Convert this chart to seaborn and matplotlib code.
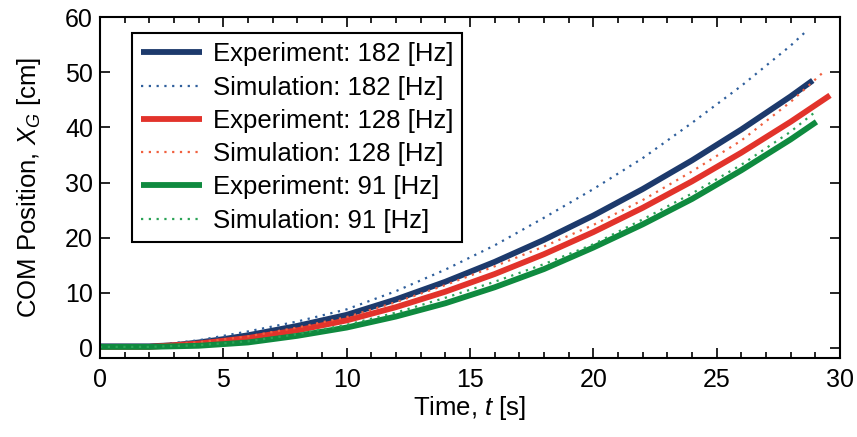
import numpy as np
import pandas as pd
import matplotlib
matplotlib.use("Agg")
import matplotlib.pyplot as plt
from matplotlib.ticker import MultipleLocator
import seaborn as sns

# values (time in s, COM position in cm)
t_exp_182 = [0, 2, 3, 4, 5, 6, 8, 10, 12, 14, 16, 18, 20, 22, 24, 26, 28, 28.9]
x_exp_182 = [0.3, 0.3, 0.5, 1.0, 1.6, 2.3, 4.0, 6.0, 8.8, 12.0, 15.6, 19.6, 24.0, 28.8, 34.0, 39.6, 45.6, 48.5]

t_sim_182 = [0, 2, 4, 6, 8, 10, 12, 14, 16, 18, 20, 22, 24, 26, 28, 28.7]
x_sim_182 = [0.3, 0.4, 1.4, 3.0, 4.8, 7.0, 10.3, 14.2, 18.6, 23.6, 28.8, 34.4, 40.8, 47.5, 54.8, 57.7]

t_exp_128 = [0, 2, 4, 6, 8, 10, 12, 14, 16, 18, 20, 22, 24, 26, 28, 29.6]
x_exp_128 = [0.2, 0.2, 0.8, 1.8, 3.2, 5.0, 7.4, 10.2, 13.4, 17.0, 21.0, 25.4, 30.2, 35.4, 41.0, 45.8]

t_sim_128 = [0, 2, 4, 6, 8, 10, 12, 14, 16, 18, 20, 22, 24, 26, 28, 29.4]
x_sim_128 = [0.2, 0.3, 1.0, 2.1, 3.7, 5.6, 8.3, 11.4, 14.8, 18.4, 22.3, 26.8, 32.0, 37.6, 44.6, 50.3]

t_exp_91 = [0, 2, 4, 6, 8, 10, 12, 14, 16, 18, 20, 22, 24, 26, 28, 29.05]
x_exp_91 = [0.2, 0.2, 0.4, 1.0, 2.2, 3.7, 5.7, 8.1, 11.0, 14.3, 18.2, 22.4, 27.0, 32.2, 37.8, 41.0]

t_sim_91 = [0, 2, 4, 6, 8, 10, 12, 14, 16, 18, 20, 22, 24, 26, 28, 29.0]
x_sim_91 = [0.2, 0.2, 0.5, 1.2, 2.5, 4.2, 6.4, 9.1, 12.0, 15.2, 18.8, 23.3, 28.0, 33.2, 39.2, 42.8]

dots = (0, (1, 2.5))
series = [
    ("Experiment: 182 [Hz]", t_exp_182, x_exp_182, "#1d3a6c", "-", 4.2),
    ("Simulation: 182 [Hz]", t_sim_182, x_sim_182, "#2f5f9c", dots, 1.6),
    ("Experiment: 128 [Hz]", t_exp_128, x_exp_128, "#e2332b", "-", 4.2),
    ("Simulation: 128 [Hz]", t_sim_128, x_sim_128, "#f0603f", dots, 1.6),
    ("Experiment: 91 [Hz]", t_exp_91, x_exp_91, "#0f8a3f", "-", 4.2),
    ("Simulation: 91 [Hz]", t_sim_91, x_sim_91, "#2aa356", dots, 1.6),
]

sns.set_style("ticks")
plt.rcParams["font.family"] = ["Liberation Sans", "DejaVu Sans"]
plt.rcParams["mathtext.fontset"] = "custom"
plt.rcParams["mathtext.it"] = "Liberation Sans:italic"
plt.rcParams["mathtext.rm"] = "Liberation Sans"
plt.rcParams["text.color"] = "black"
plt.rcParams["axes.labelcolor"] = "black"
plt.rcParams["xtick.color"] = "black"
plt.rcParams["ytick.color"] = "black"

fig, ax = plt.subplots(figsize = (8.57, 4.37), dpi = 100)
fig.subplots_adjust(left = 0.1167, right = 0.980, top = 0.961, bottom = 0.181)

for label, t, x, col, ls, lw in series:
    df = pd.DataFrame({"t": t, "x": x})
    sns.lineplot(data = df, x = "t", y = "x", ax = ax, color = col, linestyle = ls,
                 linewidth = lw, label = label, sort = False, estimator = None)

for ln in ax.lines:
    ln.set_solid_capstyle("butt")

ax.set_xlim(0, 30)
ax.set_ylim(-1.8, 60)
ax.set_yticks([0, 10, 20, 30, 40, 50, 60])
ax.xaxis.set_major_locator(MultipleLocator(5))
ax.xaxis.set_minor_locator(MultipleLocator(1))
ax.tick_params(axis = "both", which = "both", direction = "in", top = True, right = True,
               labelsize = 18, width = 1.2, color = "black")
ax.tick_params(axis = "x", pad = 7)
ax.tick_params(axis = "y", pad = 5)
ax.tick_params(which = "major", length = 7)
ax.tick_params(which = "minor", length = 4)
for sp in ax.spines.values():
    sp.set_linewidth(1.5)
    sp.set_color("black")

ax.set_xlabel("Time, $\\mathit{t}$ [s]", fontsize = 18.5, labelpad = 2)
ax.set_ylabel("COM Position, $\\mathit{X_G}$ [cm]", fontsize = 18.5, labelpad = 16)

leg = ax.legend(loc = "upper left", bbox_to_anchor = (0.043, 0.952), fontsize = 18.5,
                frameon = True, fancybox = False, edgecolor = "black", framealpha = 1,
                handlelength = 2.4, handletextpad = 0.4, labelspacing = 0.36,
                borderpad = 0.35, borderaxespad = 0)
leg.get_frame().set_linewidth(1.5)

fig.savefig("out.png", dpi = 100)
